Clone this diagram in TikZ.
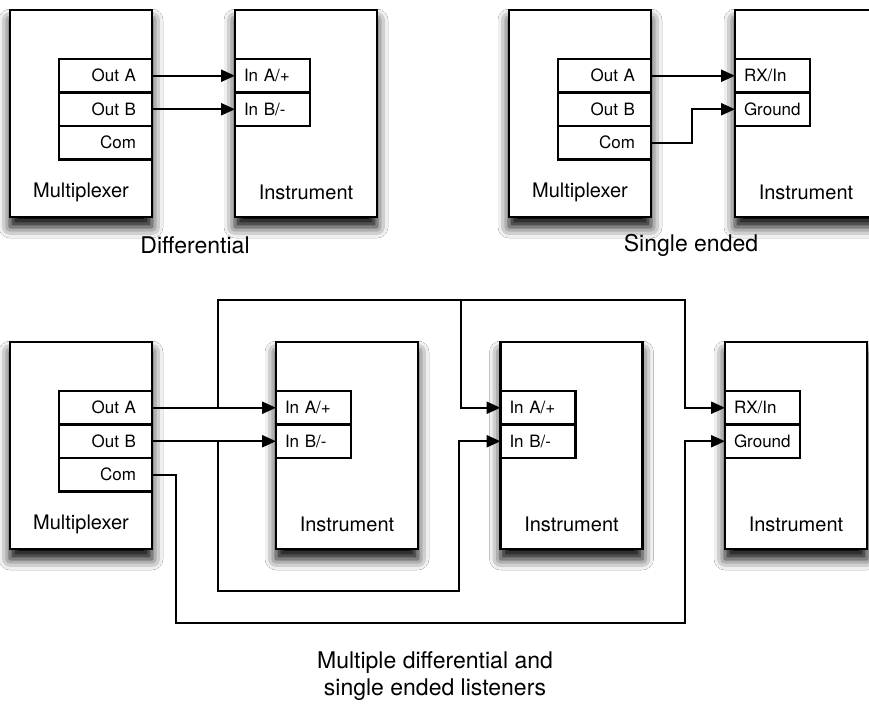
\documentclass[tikz,border=0pt]{standalone}
\usepackage{fontspec}
\setmainfont{TeX Gyre Heros}
\usetikzlibrary{positioning,arrows.meta,shadows.blur}

\begin{document}
\begin{tikzpicture}[x=0.5pt,y=-0.5pt,
  box/.style={draw, line width=1.25pt, fill=white, minimum width=71pt, minimum height=103.5pt, outer sep=0pt,
    blur shadow={shadow xshift=0pt, shadow yshift=-5pt, shadow blur radius=5.5pt, shadow opacity=100}},
  outport/.style={draw, line width=1.2pt, fill=white, font=\fontsize{8.5}{10}\selectfont, text width=30.5pt,
    inner xsep=8pt, inner ysep=0pt, align=right, minimum height=16.75pt, outer sep=0pt, text height=6.2pt, text depth=0.3pt},
  inport/.style={outport, text width=28.5pt, inner xsep=4.5pt, align=left},
  boxlabel/.style={font=\fontsize{10}{12}\selectfont},
  caption/.style={font=\fontsize{11.5}{13.5}\selectfont, align=center},
  plainwire/.style={line width=1.15pt},
  wire/.style={plainwire, -{Triangle[length=7pt,width=6pt]}}]

\clip (0,0) rectangle (869,707);
\fill[white] (0,0) rectangle (869,707);

% Differential
\node[box] (mux1) at (81,113.5) {};
\node[outport, anchor=north east] (outa1) at ([yshift=-24.5pt]mux1.north east) {Out A};
\node[outport, below=0pt of outa1] (outb1) {Out B};
\node[outport, below=0pt of outb1] (com1) {Com};
\node[boxlabel] (muxlab1) at ([yshift=12.5pt]mux1.south) {Multiplexer};

\node[box] (inst1) at (306,113.5) {};
\node[inport, anchor=north west] (ina1) at ([yshift=-24.5pt]inst1.north west) {In A/+};
\node[inport, below=0pt of ina1] (inb1) {In B/-};
\node[boxlabel] (instlab1) at ([yshift=12.5pt]inst1.south) {Instrument};

\draw[wire] (outa1.east) -- (ina1.west);
\draw[wire] (outb1.east) -- (inb1.west);
\node[caption] (cap1) at (195,245) {Differential};

% Single ended
\node[box] (mux2) at (580,113.5) {};
\node[outport, anchor=north east] (outa2) at ([yshift=-24.5pt]mux2.north east) {Out A};
\node[outport, below=0pt of outa2] (outb2) {Out B};
\node[outport, below=0pt of outb2] (com2) {Com};
\node[boxlabel] (muxlab2) at ([yshift=12.5pt]mux2.south) {Multiplexer};

\node[box] (inst2) at (806,113.5) {};
\node[inport, anchor=north west] (rx2) at ([yshift=-24.5pt]inst2.north west) {RX/In};
\node[inport, below=0pt of rx2] (gnd2) {Ground};
\node[boxlabel] (instlab2) at ([yshift=12.5pt]inst2.south) {Instrument};

\draw[wire] (outa2.east) -- (rx2.west);
\draw[wire] (com2.east) -| ([xshift=-21.5pt]gnd2.west) -- (gnd2.west);
\node[caption] (cap2) at (691,245) {Single ended};

% Multiple listeners
\node[box] (mux3) at (81,445.5) {};
\node[outport, anchor=north east] (outa3) at ([yshift=-24.5pt]mux3.north east) {Out A};
\node[outport, below=0pt of outa3] (outb3) {Out B};
\node[outport, below=0pt of outb3] (com3) {Com};
\node[boxlabel] (muxlab3) at ([yshift=12.5pt]mux3.south) {Multiplexer};

\node[box] (inst3) at (347,445.5) {};
\node[inport, anchor=north west] (ina3) at ([yshift=-24.5pt]inst3.north west) {In A/+};
\node[inport, below=0pt of ina3] (inb3) {In B/-};
\node[boxlabel] (instlab3) at ([yshift=12.5pt]inst3.south) {Instrument};

\node[box] (inst4) at (571.5,445.5) {};
\node[inport, anchor=north west] (ina4) at ([yshift=-24.5pt]inst4.north west) {In A/+};
\node[inport, below=0pt of ina4] (inb4) {In B/-};
\node[boxlabel] (instlab4) at ([yshift=12.5pt]inst4.south) {Instrument};

\node[box] (inst5) at (796,445.5) {};
\node[inport, anchor=north west] (rx5) at ([yshift=-24.5pt]inst5.north west) {RX/In};
\node[inport, below=0pt of rx5] (gnd5) {Ground};
\node[boxlabel] (instlab5) at ([yshift=12.5pt]inst5.south) {Instrument};

% Wiring
\coordinate (ja) at (218,407.75);
\coordinate (jb) at (218,441.25);
\coordinate (ta) at (218,300);
\coordinate (tb) at (461,300);
\coordinate (tc) at (685,300);
\coordinate (ba) at (459,591);
\coordinate (ca) at (176,623);
\coordinate (cb) at (685,623);

\draw[wire] (outa3.east) -- (ina3.west);
\draw[wire] (outb3.east) -- (inb3.west);
\draw[wire] (ja) -- (ta) -- (tc) |- (rx5.west);
\draw[wire] (tb) |- (ina4.west);
\draw[wire] (jb) |- (ba) |- (inb4.west);
\draw[wire] (com3.east) -| (ca) -- (cb) |- (gnd5.west);

\node[caption] (cap3) at (435,676) {Multiple differential and\\single ended listeners};
\end{tikzpicture}
\end{document}
